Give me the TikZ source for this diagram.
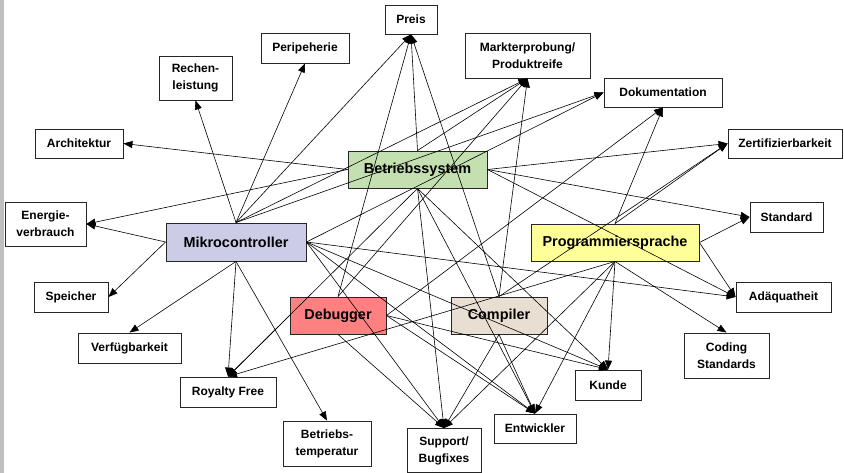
\documentclass[tikz,border=0pt]{standalone}
\usepackage{fontspec}
\setmainfont{Liberation Sans}
\usetikzlibrary{arrows.meta}
\definecolor{figG}{RGB}{197,224,176}
\definecolor{figL}{RGB}{204,204,230}
\definecolor{figY}{RGB}{255,255,153}
\definecolor{figR}{RGB}{255,128,128}
\definecolor{figC}{RGB}{232,222,210}

\begin{document}
\begin{tikzpicture}[x=1pt,y=-1pt,>={Triangle[length=9pt,width=7pt]},
  box/.style={draw=black!85,line width=0.9pt,fill=white,inner sep=0pt,align=center,font=\bfseries\fontsize{12}{17}\selectfont},
  core/.style={box,font=\bfseries\fontsize{14.4}{17}\selectfont},
  link/.style={->,line width=0.6pt}]
\useasboundingbox (0,0) rectangle (844,473);
\fill[black!25] (0,0) rectangle (4,473);
% the five components
\node[core,fill=figG,minimum width=139,minimum height=37] (bs) at (417.5,169.5) {Betriebssystem};
\node[core,fill=figL,minimum width=140,minimum height=38] (mc) at (236,242) {Mikrocontroller};
\node[core,fill=figY,minimum width=168,minimum height=37] (ps) at (615,242.5) {Programmiersprache};
\node[core,fill=figR,minimum width=96,minimum height=37] (dbg) at (338,315.5) {Debugger};
\node[core,fill=figC,minimum width=96,minimum height=37] (comp) at (499,315.5) {Compiler};
% criteria
\node[box,minimum width=52,minimum height=29] (preis) at (411,19.5) {Preis};
\node[box,minimum width=88,minimum height=30] (peri) at (305,48) {Peripeherie};
\node[box,minimum width=73,minimum height=44] (rech) at (195.5,78) {Rechen-\\leistung};
\node[box,minimum width=125,minimum height=45] (markt) at (527.5,55.5) {Markterprobung/\\Produktreife};
\node[box,minimum width=118,minimum height=29] (doku) at (663,92.5) {Dokumentation};
\node[box,minimum width=88,minimum height=29] (arch) at (79,143.5) {Architektur};
\node[box,minimum width=114,minimum height=29] (zert) at (785,143.5) {Zertifizierbarkeit};
\node[box,minimum width=81,minimum height=44] (energie) at (45.5,224) {Energie-\\verbrauch};
\node[box,minimum width=73,minimum height=30] (std) at (786.5,217) {Standard};
\node[box,minimum width=74,minimum height=30] (speicher) at (71,297) {Speicher};
\node[box,minimum width=95,minimum height=30] (adaeq) at (783.5,297) {Adäquatheit};
\node[box,minimum width=103,minimum height=30] (verf) at (129.5,348) {Verfügbarkeit};
\node[box,minimum width=85,minimum height=45] (coding) at (726.5,355.5) {Coding\\Standards};
\node[box,minimum width=96,minimum height=30] (royalty) at (228,392) {Royalty Free};
\node[box,minimum width=66,minimum height=30] (kunde) at (608,385) {Kunde};
\node[box,minimum width=88,minimum height=45] (temp) at (327,443.5) {Betriebs-\\temperatur};
\node[box,minimum width=74,minimum height=44] (support) at (444,450.5) {Support/\\Bugfixes};
\node[box,minimum width=82,minimum height=29] (entw) at (535,428.5) {Entwickler};
% Mikrocontroller
\draw[link] (mc.north) -- (rech.south);
\draw[link] (mc.north) -- (peri.south);
\draw[link] (mc.north) -- (preis.south);
\draw[link] (mc.north) -- (markt.south);
\draw[link] (mc.north) -- (doku.west);
\draw[link] (mc.west) -- (energie.east);
\draw[link] (mc.west) -- (speicher.east);
\draw[link] (mc.south) -- (verf.north);
\draw[link] (mc.south) -- (royalty.north);
\draw[link] (mc.south) -- (temp.north);
\draw[link] (mc.east) -- (doku.west);
\draw[link] (mc.east) -- (adaeq.west);
\draw[link] (mc.east) -- (kunde.north);
\draw[link] (mc.east) -- (entw.north);
\draw[link] (mc.east) -- (support.north);
% Betriebssystem
\draw[link] (bs.west) -- (arch.east);
\draw[link] (bs.west) -- (energie.east);
\draw[link] (bs.north) -- (preis.south);
\draw[link] (bs.north) -- (markt.south);
\draw[link] (bs.east) -- (zert.west);
\draw[link] (bs.east) -- (std.west);
\draw[link] (bs.east) -- (adaeq.west);
\draw[link] (bs.south) -- (royalty.north);
\draw[link] (bs.south) -- (support.north);
\draw[link] (bs.south) -- (entw.north);
\draw[link] (bs.south) -- (kunde.north);
% Programmiersprache
\draw[link] (ps.north) -- (doku.south);
\draw[link] (ps.north) -- (zert.west);
\draw[link] (ps.east) -- (std.west);
\draw[link] (ps.east) -- (adaeq.west);
\draw[link] (ps.south) -- (coding.north);
\draw[link] (ps.south) -- (kunde.north);
\draw[link] (ps.south) -- (entw.north);
\draw[link] (ps.south) -- (support.north);
\draw[link] (ps.south) -- (royalty.north);
% Debugger
\draw[link] (dbg.north) -- (preis.south);
\draw[link] (dbg.north) -- (markt.south);
\draw[link] (dbg.west) -- (royalty.north);
\draw[link] (dbg.east) -- (doku.south);
\draw[link] (dbg.east) -- (kunde.north);
\draw[link] (dbg.east) -- (entw.north);
\draw[link] (dbg.south) -- (support.north);
% Compiler
\draw[link] (comp.north) -- (preis.south);
\draw[link] (comp.north) -- (markt.south);
\draw[link] (comp.north) -- (zert.west);
\draw[link] (comp.south) -- (support.north);
\draw[link] (comp.south) -- (entw.north);
\end{tikzpicture}
\end{document}
